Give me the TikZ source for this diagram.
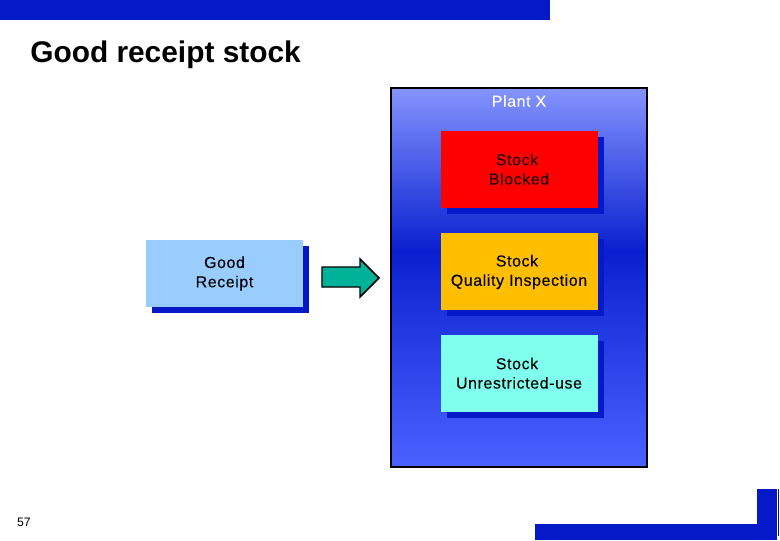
\documentclass[tikz,border=0pt]{standalone}
\usepackage{fontspec}
\setmainfont{Liberation Sans}
\newfontfamily\boxfont[LetterSpace=4,FakeBold=0.12]{Liberation Sans}
\definecolor{barblue}{HTML}{0519C8}
\definecolor{plantT}{HTML}{8494FF}
\definecolor{plantM}{HTML}{0A20D0}
\definecolor{plantB}{HTML}{4A62FF}
\definecolor{gr}{HTML}{99CCFF}
\definecolor{arrowc}{HTML}{00B398}
\definecolor{orangeb}{HTML}{FFBE00}
\definecolor{cyanb}{HTML}{80FFEE}
\tikzset{
  px/.style={x=0.75pt,y=-0.75pt},
  bar/.style={fill=barblue,draw=none},
  boxtext/.style={font=\boxfont\fontsize{11.9pt}{14.5pt}\selectfont,align=center,text=black,inner sep=0pt},
  shadowbox/.style={fill=barblue,draw=none},
}
\begin{document}
\begin{tikzpicture}[px]
\useasboundingbox (0,0) rectangle (780,540);
\fill[white] (0,0) rectangle (780,540);
\fill[bar] (0,0) rectangle (550,20);
\fill[bar] (535,524) rectangle (777,540);
\fill[bar] (757,489) rectangle (777,540);
\fill[barblue!70!black] (778,489) rectangle (779,536);
\node[anchor=west,inner sep=0pt,font=\bfseries\fontsize{22.4pt}{26pt}\selectfont] (title) at (30,55) {Good receipt stock};
% plant
\fill[top color=plantT,bottom color=plantM] (391,88) rectangle (647,250);
\fill[top color=plantM,bottom color=plantB] (391,250) rectangle (647,467);
\draw[black,line width=1.1pt] (391,88) rectangle (647,467);
\node[boxtext,text=white] (plant) at (519,101) {Plant X};
% shadows
\fill[shadowbox] (447,137) rectangle (604,214);
\fill[shadowbox] (447,239) rectangle (604,316);
\fill[shadowbox] (447,341) rectangle (604,418);
\fill[shadowbox] (152,246) rectangle (309,313);
% boxes
\fill[red] (441,131) rectangle (598,208);
\fill[orangeb] (441,233) rectangle (598,310);
\fill[cyanb] (441,335) rectangle (598,412);
\fill[gr] (146,240) rectangle (303,307);
\node[boxtext,text=black!85!red] (blocked) at (519,169.2) {Stock\hspace{3pt}\mbox{}\\ Blocked};
\node[boxtext] (qi) at (519,272) {Stock\hspace{3pt}\mbox{}\\Quality Inspection};
\node[boxtext] (ur) at (519,373.2) {Stock\hspace{3pt}\mbox{}\\Unrestricted-use};
\node[boxtext] (good) at (224.5,273.5) {Good\\Receipt};
% arrow
\draw[fill=arrowc,draw=black,line width=1.1pt,line join=miter]
  (322,267) -- (360,267) -- (360,259) -- (379,278) -- (360,297) -- (360,287) -- (322,287) -- cycle;
\node[anchor=center,inner sep=0pt,font=\fontsize{9.2pt}{11pt}\selectfont] (pg) at (24,522) {57};
\end{tikzpicture}
\end{document}
